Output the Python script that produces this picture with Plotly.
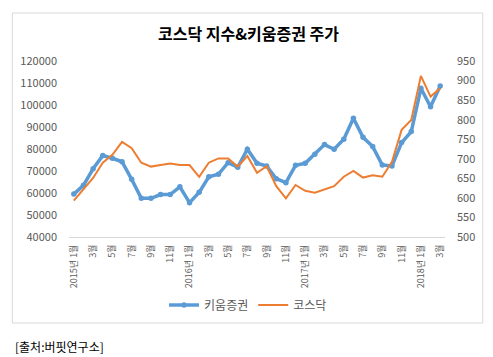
import plotly.graph_objects as go

months = [f"{y}-{m:02d}" for y in range(2015, 2019) for m in range(1, 13)][:39]
tick_labels = []
for i, mo in enumerate(months):
    y, m = mo.split("-")
    m = int(m)
    if i % 2 == 0:
        tick_labels.append(f"{y}년 {m}월" if m == 1 else f"{m}월")

kiwoom = [59500, 63500, 71000, 77000, 75800, 74200, 66200, 57600, 57600, 59300,
          59300, 62800, 55600, 60300, 67400, 68500, 73800, 71700, 79900, 73500,
          72300, 66500, 64700, 72600, 73500, 77600, 82000, 79900, 84400, 94000,
          85300, 81100, 72700, 72300, 82900, 87900, 107600, 99200, 108600]
kosdaq = [593, 622, 651, 690, 710, 743, 727, 690, 680, 684,
          688, 684, 684, 654, 690, 701, 701, 680, 707, 664,
          681, 630, 599, 633, 618, 613, 622, 630, 654, 669,
          652, 658, 654, 692, 774, 799, 912, 859, 880]

idx = list(range(len(months)))
FONT = "Noto Sans CJK KR"
GRAY = "#595959"

fig = go.Figure()
fig.add_trace(go.Scatter(x=idx, y=kiwoom, name="키움증권", mode="lines+markers",
                         line=dict(color="#5B9BD5", width=3.5),
                         marker=dict(size=5.5, color="#5B9BD5")))
fig.add_trace(go.Scatter(x=idx, y=kosdaq, name="코스닥", mode="lines", yaxis="y2",
                         line=dict(color="#ED7D31", width=2)))

# page body has an 8px margin, so the figure is 8px smaller and placed at (8,8)
OFF = 8
L, R, T, B = 67 - OFF, 445 - OFF, 61 - OFF, 237 - OFF
W, H = 493 - OFF, 357 - OFF
def px(x): return (x - OFF - L) / (R - L)
def py(y): return (B - (y - OFF)) / (B - T)

fig.update_layout(
    width=W, height=H,
    margin=dict(l=L, r=W - R, t=T, b=H - B, pad=0),
    paper_bgcolor="white", plot_bgcolor="white",
    font=dict(family=FONT, color=GRAY, size=11),
    showlegend=True,
    legend=dict(orientation="h", x=px(247), y=py(305), xanchor="center", yanchor="middle",
                font=dict(size=12, color=GRAY), itemwidth=30),
    xaxis=dict(range=[-0.5, len(months) - 0.5], tickmode="array",
               tickvals=idx[::2], ticktext=tick_labels, tickangle=-90,
               tickfont=dict(size=9, color=GRAY), showgrid=False, zeroline=False,
               showline=True, linecolor="#d9d9d9", linewidth=1, ticks="",
               ticklabelstandoff=3),
    yaxis=dict(range=[40000, 120000], dtick=10000, tickformat="d", showgrid=False,
               zeroline=False, ticks="", tickfont=dict(size=11, color=GRAY),
               ticklabelstandoff=11, showline=False),
    yaxis2=dict(range=[500, 950], dtick=50, tickformat="d", overlaying="y", side="right",
                showgrid=False, zeroline=False, ticks="", tickfont=dict(size=11, color=GRAY),
                ticklabelstandoff=11, showline=False),
)

fig.add_shape(type="rect", xref="paper", yref="paper",
              x0=px(10), x1=px(483), y0=py(323), y1=py(13),
              line=dict(color="#d9d9d9", width=1), fillcolor="rgba(0,0,0,0)", layer="below")

fig.add_annotation(text="<b>코스닥 지수&키움증권 주가</b>", xref="paper", yref="paper",
                   x=px(247), y=py(33), showarrow=False, xanchor="center", yanchor="middle",
                   font=dict(size=16, color="#000000", family=FONT))
fig.add_annotation(text="[출처:버핏연구소]", xref="paper", yref="paper",
                   x=px(11), y=py(346), showarrow=False, xanchor="left", yanchor="middle",
                   font=dict(size=12, color="#000000", family=FONT))

fig.write_html("out.html")
